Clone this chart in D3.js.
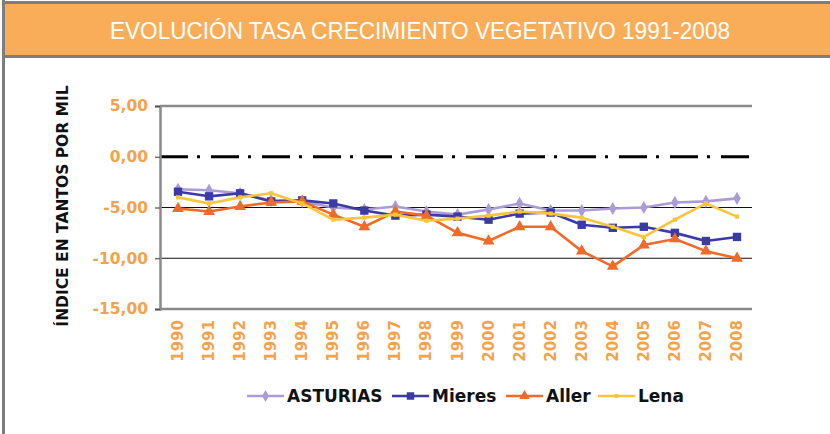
<!DOCTYPE html>
<html>
<head>
<meta charset="utf-8">
<script src="https://cdn.jsdelivr.net/npm/d3@7"></script>
<style>
  body { margin: 0; background: #fff; }
  svg { display: block; }
</style>
</head>
<body>
<div id="chart"></div>
<script>
const years = ["1990","1991","1992","1993","1994","1995","1996","1997","1998","1999",
  "2000","2001","2002","2003","2004","2005","2006","2007","2008"]
const asturias = [-3.2,-3.3,-3.6,-4.3,-4.4,-5.0,-5.2,-4.9,-5.4,-5.7,-5.2,-4.6,-5.3,-5.3,-5.1,-5.0,-4.5,-4.4,-4.1]
const mieres = [-3.45,-3.9,-3.6,-4.4,-4.3,-4.6,-5.3,-5.8,-5.7,-5.9,-6.2,-5.6,-5.5,-6.7,-7.0,-6.9,-7.5,-8.3,-7.9]
const aller = [-5.1,-5.4,-4.9,-4.5,-4.4,-5.7,-6.9,-5.4,-5.8,-7.5,-8.3,-6.9,-6.9,-9.3,-10.8,-8.7,-8.1,-9.3,-10.0]
const lena = [-4.0,-4.6,-4.0,-3.6,-4.6,-6.2,-6.0,-5.7,-6.3,-6.1,-5.8,-5.4,-5.6,-6.0,-6.9,-7.9,-6.2,-4.6,-5.9]
const yTicks = [5, 0, -5, -10, -15]

const series = [
  {name: "ASTURIAS", values: asturias, color: "#ab9bd6", symbol: d3.symbolDiamond, size: 50},
  {name: "Mieres", values: mieres, color: "#3b3ba6", symbol: d3.symbolSquare, size: 70},
  {name: "Aller", values: aller, color: "#f06a2a", symbol: d3.symbolTriangle, size: 60},
  {name: "Lena", values: lena, color: "#f9c53a", symbol: d3.symbolSquare, size: 18}
]

const width = 830, height = 434
const orange = "#f4a24c"
// excel style: comma decimals, plain hyphen for minus
const fmt = v => d3.format(".2f")(v).replace(".", ",").replace("\u2212", "-")

const svg = d3.select("#chart").append("svg")
  .attr("width", width)
  .attr("height", height)

// frame + title bar
svg.append("line")
  .attr("x1", 3.5).attr("x2", 3.5).attr("y1", 0).attr("y2", height)
  .attr("stroke", "#7d7d7d").attr("stroke-width", 3)

svg.append("rect")
  .attr("x", 3.5).attr("y", 2.5).attr("width", width).attr("height", 54)
  .attr("fill", "#f9ad58").attr("stroke", "#7d7d7d").attr("stroke-width", 3)

svg.append("text")
  .attr("x", 420).attr("y", 39)
  .attr("text-anchor", "middle")
  .attr("font-family", "'Liberation Sans Narrow', 'Liberation Sans', sans-serif")
  .attr("font-size", 24)
  .attr("fill", "#fff")
  .attr("textLength", 620)
  .attr("lengthAdjust", "spacingAndGlyphs")
  .text("EVOLUCIÓN TASA CRECIMIENTO VEGETATIVO 1991-2008")

// scales
const x = d3.scalePoint().domain(years).range([178, 737])
const y = d3.scaleLinear().domain([-15, 5]).range([309, 106])
const left = 160, right = 752

const g = svg.append("g")

// gridlines
g.selectAll("line.grid")
  .data([-5, -10])
  .join("line")
  .attr("class", "grid")
  .attr("x1", left).attr("x2", right)
  .attr("y1", d => y(d)).attr("y2", d => y(d))
  .attr("stroke", "#111").attr("stroke-width", 1)

g.selectAll("line.edge")
  .data([5, -15])
  .join("line")
  .attr("class", "edge")
  .attr("x1", left).attr("x2", right)
  .attr("y1", d => y(d)).attr("y2", d => y(d))
  .attr("stroke", "#8a8a8a").attr("stroke-width", 2.5)

// zero line
g.append("line")
  .attr("x1", left).attr("x2", right - 2)
  .attr("y1", y(0)).attr("y2", y(0))
  .attr("stroke", "#000").attr("stroke-width", 3)
  .attr("stroke-dasharray", "28,9,3,11")

// y axis
const yAxis = g.append("g")
  .attr("transform", `translate(${left},0)`)
  .call(d3.axisLeft(y).tickValues(yTicks).tickSize(5).tickFormat(fmt).tickPadding(7))
yAxis.select(".domain").attr("stroke", "#8a8a8a").attr("stroke-width", 2.5)
yAxis.selectAll(".tick line").attr("stroke", "#555").attr("stroke-width", 1.2)
yAxis.selectAll(".tick text")
  .attr("fill", orange)
  .attr("font-family", "'DejaVu Sans', Verdana, sans-serif")
  .attr("font-weight", "bold")
  .attr("font-size", 15.5)

// x labels
g.selectAll("text.year")
  .data(years)
  .join("text")
  .attr("class", "year")
  .attr("transform", d => `translate(${x(d) + 5},320) rotate(-90)`)
  .attr("text-anchor", "end")
  .attr("font-family", "'DejaVu Sans', Verdana, sans-serif")
  .attr("font-weight", "bold")
  .attr("font-size", 15)
  .attr("fill", orange)
  .text(d => d)

// y title
svg.append("text")
  .attr("transform", "translate(68,206) rotate(-90)")
  .attr("text-anchor", "middle")
  .attr("font-family", "'DejaVu Sans', Verdana, sans-serif")
  .attr("font-weight", "bold")
  .attr("font-size", 15.5)
  .attr("fill", "#111")
  .text("ÍNDICE EN TANTOS POR MIL")

// series
const line = d3.line().x((d, i) => x(years[i])).y(d => y(d))

series.forEach(s => {
  const sg = g.append("g")
  sg.append("path")
    .datum(s.values)
    .attr("fill", "none")
    .attr("stroke", s.color)
    .attr("stroke-width", 2.6)
    .attr("stroke-linejoin", "round")
    .attr("d", line)
  sg.selectAll("path.mark")
    .data(s.values)
    .join("path")
    .attr("class", "mark")
    .attr("transform", (d, i) => `translate(${x(years[i])},${y(d)})`)
    .attr("d", d3.symbol().type(s.symbol).size(s.size))
    .attr("fill", s.color)
})

// legend
const legendX = [247, 392, 506, 598]
const legend = svg.append("g")
series.forEach((s, i) => {
  const lg = legend.append("g").attr("transform", `translate(${legendX[i]},396)`)
  lg.append("line")
    .attr("x1", 0).attr("x2", 37)
    .attr("stroke", s.color).attr("stroke-width", 2.6)
  lg.append("path")
    .attr("transform", "translate(18.5,0)")
    .attr("d", d3.symbol().type(s.symbol).size(s.size * 0.8))
    .attr("fill", s.color)
  lg.append("text")
    .attr("x", 40).attr("y", 6)
    .attr("font-family", "'DejaVu Sans', Verdana, sans-serif")
    .attr("font-weight", "bold")
    .attr("font-size", 17)
    .attr("fill", "#111")
    .text(s.name)
})
</script>
</body>
</html>
